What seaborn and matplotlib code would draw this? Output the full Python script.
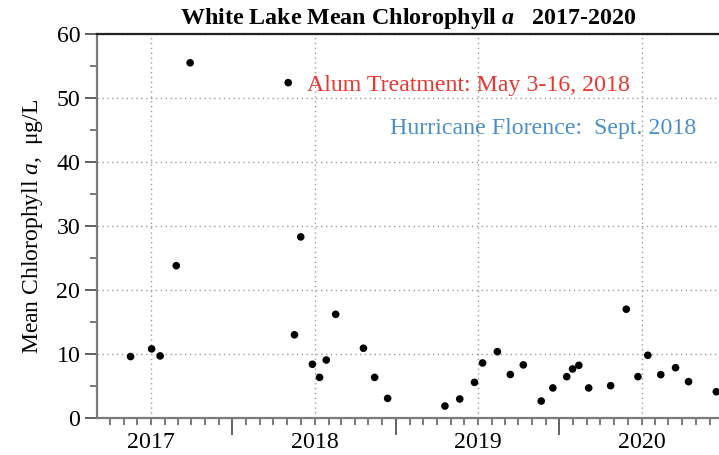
import matplotlib
matplotlib.use("Agg")
import matplotlib.pyplot as plt
import matplotlib.dates as mdates
import matplotlib.ticker as mticker
import seaborn as sns
import pandas as pd

dates = ["2016-11-16", "2017-01-02", "2017-01-21", "2017-02-26", "2017-03-29",
         "2017-11-03", "2017-11-17", "2017-12-01", "2017-12-27", "2018-01-12",
         "2018-01-27", "2018-02-17", "2018-04-20", "2018-05-15", "2018-06-13",
         "2018-10-19", "2018-11-21", "2018-12-24", "2019-01-11", "2019-02-13",
         "2019-03-14", "2019-04-12", "2019-05-22", "2019-06-17", "2019-07-18",
         "2019-07-31", "2019-08-14", "2019-09-05", "2019-10-24", "2019-11-28",
         "2019-12-24", "2020-01-15", "2020-02-13", "2020-03-17", "2020-04-15",
         "2020-06-16"]
chl = [9.6, 10.8, 9.7, 23.8, 55.5,
       52.4, 13.0, 28.3, 8.4, 6.35,
       9.06, 16.2, 10.9, 6.35, 3.07,
       1.87, 2.97, 5.57, 8.6, 10.36,
       6.8, 8.3, 2.65, 4.7, 6.46,
       7.66, 8.23, 4.7, 5.05, 17.0,
       6.46, 9.8, 6.77, 7.86, 5.68,
       4.1]
year_ticks = ["2017-01-01", "2018-01-01", "2019-01-01", "2020-01-01"]
y_ticks = [0, 10, 20, 30, 40, 50, 60]

df = pd.DataFrame({"date": pd.to_datetime(dates), "chl": chl})

sns.set_style("white")
plt.rcParams["font.family"] = ["Liberation Serif", "DejaVu Serif"]
plt.rcParams["text.color"] = "black"
plt.rcParams["axes.labelcolor"] = "black"
plt.rcParams["mathtext.fontset"] = "custom"
plt.rcParams["mathtext.rm"] = "Liberation Serif"
plt.rcParams["mathtext.it"] = "Liberation Serif:italic"
plt.rcParams["mathtext.bf"] = "Liberation Serif:bold"
plt.rcParams["mathtext.bfit"] = "Liberation Serif:italic:bold"

fig = plt.figure(figsize=(7.19, 4.55), dpi=100)
ax = fig.add_axes([97/719, 1-418/455, 1-97/719, (418-34)/455])

sns.scatterplot(data=df, x="date", y="chl", ax=ax, color="black", s=30,
                edgecolor="none", zorder=3)

ax.set_xlim(pd.Timestamp("2016-09-02"), pd.Timestamp("2020-06-22"))
ax.set_ylim(0, 60)

# grid
for d in year_ticks:
    ax.axvline(pd.Timestamp(d), color="#9a9a9a", lw=1, ls=(0, (1, 2.5)), zorder=1)
for v in y_ticks[1:]:
    ax.axhline(v, color="#9a9a9a", lw=1, ls=(0, (1, 2.5)), zorder=1)

# x ticks: long ticks mid-year, monthly minor ticks with year labels at January
ax.xaxis.set_major_locator(mdates.MonthLocator(bymonth=7, bymonthday=1))
ax.xaxis.set_major_formatter(mticker.NullFormatter())
ax.xaxis.set_minor_locator(mdates.MonthLocator())
def minor_fmt(x, pos):
    d = mdates.num2date(x)
    return str(d.year) if d.month == 1 else ""
ax.xaxis.set_minor_formatter(mticker.FuncFormatter(minor_fmt))
ax.tick_params(axis="x", which="major", length=12, width=1.3, color="#555555", direction="out")
ax.tick_params(axis="x", which="minor", length=5, width=1.1, color="#555555",
               direction="out", labelsize=17.2, pad=5, labelcolor="black")

ax.set_yticks(y_ticks)
ax.yaxis.set_minor_locator(mticker.MultipleLocator(5))
ax.tick_params(axis="y", which="major", length=9, width=1.3, color="#555555",
               direction="out", labelsize=17.2, pad=3, labelcolor="black")
ax.tick_params(axis="y", which="minor", length=5, width=1.1, color="#555555", direction="out")
ax.tick_params(bottom=True, left=True, which="both")

for side in ["left", "bottom"]:
    ax.spines[side].set_color("#7a7a7a")
    ax.spines[side].set_linewidth(1.6)
ax.spines["top"].set_color("#222222")
ax.spines["top"].set_linewidth(1.6)
ax.spines["right"].set_visible(False)

ax.set_xlabel("")
ax.set_ylabel(r"Mean Chlorophyll $a$,  μg/L", fontsize=17, labelpad=8)

ax.set_title(r"White Lake Mean Chlorophyll $\mathbfit{a}$   2017-2020",
             fontsize=17.3, fontweight="bold", pad=7)

ax.text(0.338, 0.867, "Alum Treatment: May 3-16, 2018", transform=ax.transAxes,
        color="#e8362f", fontsize=17.2, va="center", ha="left")
ax.text(0.471, 0.755, "Hurricane Florence:  Sept. 2018", transform=ax.transAxes,
        color="#4a90c8", fontsize=17.2, va="center", ha="left")

fig.savefig("out.png", dpi=100)
